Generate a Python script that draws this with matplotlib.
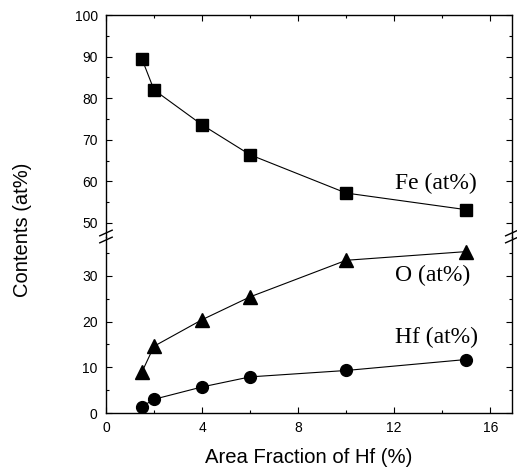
import matplotlib
matplotlib.use("Agg")
import matplotlib.pyplot as plt
from matplotlib.ticker import MultipleLocator

# area fraction of Hf (%) and measured contents (at%)
area_frac = [1.5, 2, 4, 6, 10, 15]
fe_at = [89.4, 82.0, 73.6, 66.4, 57.2, 53.2]
o_at = [9.0, 14.6, 20.4, 25.4, 33.4, 35.3]
hf_at = [1.4, 3.0, 5.7, 7.9, 9.3, 11.7]

plt.rcParams['font.family'] = ['Liberation Sans', 'DejaVu Sans']

fig = plt.figure(figsize=(5.17, 4.69), dpi=100)
left, width = 0.205, 0.785
ax_lo = fig.add_axes([left, 0.1194, width, 0.3763])
ax_hi = fig.add_axes([left, 0.4957, width, 0.4723])

line_kw = dict(color='black', lw=0.8)
ax_hi.plot(area_frac, fe_at, marker='s', ms=8, **line_kw)
ax_lo.plot(area_frac, o_at, marker='^', ms=9.5, **line_kw)
ax_lo.plot(area_frac, hf_at, marker='o', ms=8.5, **line_kw)

ax_hi.set_ylim(46.75, 100)
ax_lo.set_ylim(0, 38.6)
for ax in (ax_hi, ax_lo):
    ax.set_xlim(0, 16.9)
    ax.xaxis.set_major_locator(MultipleLocator(4))
    ax.xaxis.set_minor_locator(MultipleLocator(2))
    ax.yaxis.set_major_locator(MultipleLocator(10))
    ax.yaxis.set_minor_locator(MultipleLocator(5))
    ax.tick_params(which='both', direction='in', top=True, right=True,
                   labelsize=10, width=0.8)
    ax.tick_params(which='major', length=4.5, pad=6)
    ax.tick_params(which='minor', length=2.5)
    for sp in ax.spines.values():
        sp.set_linewidth(1.0)

ax_hi.spines['bottom'].set_visible(False)
ax_lo.spines['top'].set_visible(False)
ax_hi.tick_params(which='both', bottom=False, labelbottom=False)
ax_lo.tick_params(which='both', top=False)

# break marks on both sides
for xf in (left, left + width):
    for yf in (1 - 233 / 469, 1 - 240 / 469):
        fig.add_artist(plt.Line2D([xf - 0.012, xf + 0.012], [yf - 0.006, yf + 0.006],
                                  color='black', lw=1.0, transform=fig.transFigure))

serif = ['Liberation Serif', 'DejaVu Serif']
ax_hi.text(12.05, 59.4, 'Fe (at%)', family=serif, fontsize=17, ha='left', va='center')
ax_lo.text(12.05, 30.0, 'O (at%)', family=serif, fontsize=17, ha='left', va='center')
ax_lo.text(12.05, 16.6, 'Hf (at%)', family=serif, fontsize=17, ha='left', va='center')

ax_lo.set_xlabel('Area Fraction of Hf (%)', fontsize=14.6, labelpad=9)
fig.text(0.043, 0.51, 'Contents (at%)', rotation=90, fontsize=14.5, ha='center', va='center')

fig.savefig('out.png', dpi=100)
